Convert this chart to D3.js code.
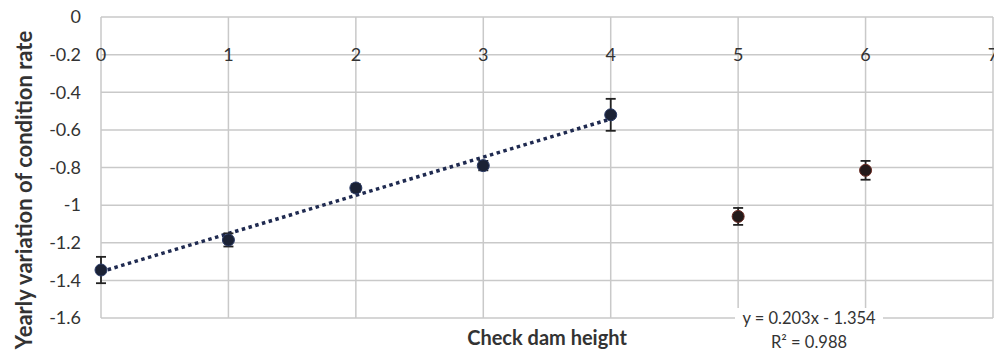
<!DOCTYPE html>
<html>
<head>
<meta charset="utf-8">
<script src="https://cdn.jsdelivr.net/npm/d3@7"></script>
<style>
  body { margin: 0; background: #fff; }
  text { font-family: Lato, "Open Sans", sans-serif; fill: #333; }
</style>
</head>
<body>
<div id="chart"></div>
<script>
// data
const heights = [0, 1, 2, 3, 4, 5, 6];
const rates = [-1.345, -1.185, -0.909, -0.79, -0.52, -1.06, -0.815];
const errors = [0.07, 0.035, 0.02, 0.025, 0.085, 0.045, 0.05];
const fitted = [true, true, true, true, true, false, false];
const xTicks = [0, 1, 2, 3, 4, 5, 6, 7];
const yTicks = [0, -0.2, -0.4, -0.6, -0.8, -1, -1.2, -1.4, -1.6];
const slope = 0.203, intercept = -1.354;
const fitRange = [0, 4];

const width = 994, height = 360;
const mLeft = 101, mRight = 993, mTop = 17, mBottom = 318;

const x = d3.scaleLinear().domain([0, 7]).range([mLeft, mRight]);
const y = d3.scaleLinear().domain([-1.6, 0]).range([mBottom, mTop]);

const svg = d3.select("#chart").append("svg")
    .attr("width", width)
    .attr("height", height);

// grid
svg.append("g")
    .selectAll("line")
    .data(yTicks)
    .join("line")
    .attr("x1", mLeft).attr("x2", mRight)
    .attr("y1", d => y(d)).attr("y2", d => y(d))
    .attr("stroke", "#c9c9c9")
    .attr("stroke-width", 1.5);

svg.append("g")
    .selectAll("line")
    .data(xTicks)
    .join("line")
    .attr("x1", d => x(d)).attr("x2", d => x(d))
    .attr("y1", mTop).attr("y2", mBottom)
    .attr("stroke", "#c9c9c9")
    .attr("stroke-width", 1.5);

// y tick labels
svg.append("g")
    .selectAll("text")
    .data(yTicks)
    .join("text")
    .attr("x", 81)
    .attr("y", d => y(d))
    .attr("dy", "0.35em")
    .attr("text-anchor", "end")
    .style("font-size", "18px")
    .text(d => String(d));

// x tick labels (sit under the axis at y = 0)
svg.append("g")
    .selectAll("text")
    .data(xTicks)
    .join("text")
    .attr("x", d => x(d))
    .attr("y", y(-0.2))
    .attr("dy", "0.35em")
    .attr("text-anchor", "middle")
    .style("font-size", "18px")
    .text(d => d);

// axis titles
svg.append("text")
    .attr("transform", "translate(24,190) rotate(-90)")
    .attr("dy", "0.35em")
    .attr("text-anchor", "middle")
    .style("font-size", "22px")
    .style("font-weight", "bold")
    .text("Yearly variation of condition rate");

svg.append("text")
    .attr("x", 547)
    .attr("y", 338)
    .attr("dy", "0.35em")
    .attr("text-anchor", "middle")
    .style("font-size", "20px")
    .style("font-weight", "bold")
    .text("Check dam height");

// trend line
const line = d3.line().x(d => x(d)).y(d => y(slope * d + intercept));
svg.append("path")
    .datum(fitRange)
    .attr("d", line)
    .attr("fill", "none")
    .attr("stroke", "#1f2a50")
    .attr("stroke-width", 3.5)
    .attr("stroke-dasharray", "3.5 3.5");

// error bars
const pts = heights.map((h, i) => ({h: h, v: rates[i], e: errors[i], fit: fitted[i]}));
const eb = svg.append("g").attr("stroke", "#222").attr("stroke-width", 1.8);
eb.selectAll(".v").data(pts).join("line")
    .attr("x1", d => x(d.h)).attr("x2", d => x(d.h))
    .attr("y1", d => y(d.v + d.e)).attr("y2", d => y(d.v - d.e));
eb.selectAll(".t").data(pts).join("line")
    .attr("x1", d => x(d.h) - 5).attr("x2", d => x(d.h) + 5)
    .attr("y1", d => y(d.v + d.e)).attr("y2", d => y(d.v + d.e));
eb.selectAll(".b").data(pts).join("line")
    .attr("x1", d => x(d.h) - 5).attr("x2", d => x(d.h) + 5)
    .attr("y1", d => y(d.v - d.e)).attr("y2", d => y(d.v - d.e));

// markers
svg.append("g")
    .selectAll("circle")
    .data(pts)
    .join("circle")
    .attr("cx", d => x(d.h))
    .attr("cy", d => y(d.v))
    .attr("r", 6)
    .attr("fill", d => d.fit ? "#1b2235" : "#231a1a")
    .attr("stroke", d => d.fit ? "#2a3a66" : "#6a2a22")
    .attr("stroke-width", 1);

// trend equation label
const eq = svg.append("g").attr("transform", "translate(809,0)");
eq.append("rect")
    .attr("x", -74).attr("y", 308)
    .attr("width", 148).attr("height", 20)
    .attr("fill", "#fff");
eq.append("text")
    .attr("y", 318)
    .attr("dy", "0.35em")
    .attr("text-anchor", "middle")
    .style("font-size", "16.5px")
    .text("y = 0.203x - 1.354");
eq.append("text")
    .attr("y", 342)
    .attr("dy", "0.35em")
    .attr("text-anchor", "middle")
    .style("font-size", "16.5px")
    .text("R² = 0.988");
</script>
</body>
</html>
